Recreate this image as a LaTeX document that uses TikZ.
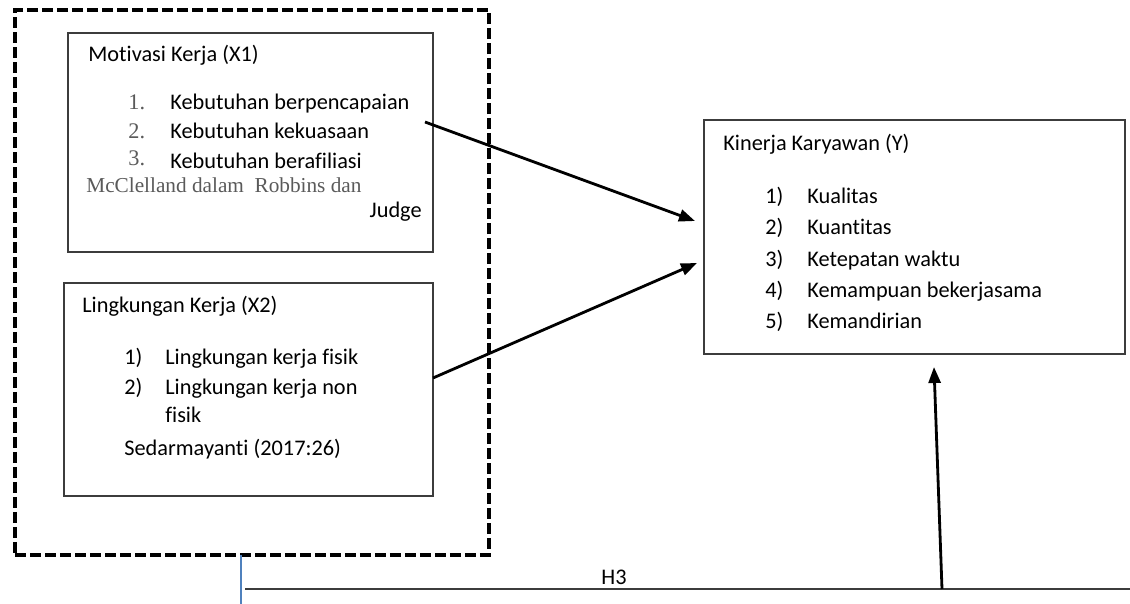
\documentclass[tikz,border=0pt]{standalone}
\usepackage{fontspec}
\setmainfont{Carlito}[Ligatures=NoCommon]
\newfontfamily\timesfont{Liberation Serif}
\usetikzlibrary{arrows.meta}
\definecolor{boxgray}{RGB}{60,60,60}
\definecolor{citegray}{RGB}{90,90,90}
\definecolor{wordblue}{RGB}{79,129,189}

\begin{document}
\begin{tikzpicture}[x=0.02cm,y=-0.02cm,
        box/.style={draw=boxgray,line width=0.8pt,inner sep=0pt},
        lbl/.style={anchor=base west,inner sep=0pt,font=\fontsize{12.7}{15}\selectfont},
        tnum/.style={anchor=base west,inner sep=0pt,text=citegray,font=\timesfont\fontsize{12.7}{15}\selectfont},
        pfeil/.style={line width=1.6pt,-{Triangle[length=0.32cm,width=0.24cm]}}]
        \useasboundingbox (0,0) rectangle (1130,604);

        % Kotak luar (putus-putus)
        \node[draw,line width=2.3pt,dash pattern=on 0.22cm off 0.08cm,inner sep=0pt,
              minimum width=9.48cm,minimum height=10.9cm] (grup) at (252,282.5) {};

        % Motivasi Kerja (X1)
        \node[box,minimum width=7.3cm,minimum height=4.38cm] (motivasi) at (250.5,142.5) {};
        \node[lbl] (motjudul) at (88,62) {Motivasi Kerja (X1)};
        \node[tnum] (motn1) at (128,110) {1.};
        \node[tnum] (motn2) at (128,139) {2.};
        \node[tnum] (motn3) at (128,166) {3.};
        \node[lbl] (mot1) at (170,110) {Kebutuhan berpencapaian};
        \node[lbl] (mot2) at (170,139) {Kebutuhan kekuasaan};
        \node[lbl] (mot3) at (170,169) {Kebutuhan berafiliasi};
        \node[tnum,font=\timesfont\fontsize{12.1}{15}\selectfont] (motsumber) at (86,193) {McClelland dalam\ \ Robbins dan};
        \node[lbl,anchor=base east] (motjudge) at (422,218) {Judge};

        % Lingkungan Kerja (X2)
        \node[box,minimum width=7.38cm,minimum height=4.26cm] (lingkungan) at (248.5,389.5) {};
        \node[lbl] (linjudul) at (82,313) {Lingkungan Kerja (X2)};
        \node[lbl] (linn1) at (124,365) {1)};
        \node[lbl] (linn2) at (124,395) {2)};
        \node[lbl] (lin1) at (165,365) {Lingkungan kerja fisik};
        \node[lbl] (lin2) at (165,395) {Lingkungan kerja non};
        \node[lbl] (lin2b) at (165,423) {fisik};
        \node[lbl] (linsumber) at (124,456) {Sedarmayanti (2017:26)};

        % Kinerja Karyawan (Y)
        \node[box,minimum width=8.42cm,minimum height=4.68cm] (kinerja) at (914.5,237) {};
        \node[lbl] (kinjudul) at (723,151) {Kinerja Karyawan (Y)};
        \node[lbl] (kinn1) at (765,204) {1)};
        \node[lbl] (kinn2) at (765,235) {2)};
        \node[lbl] (kinn3) at (765,267) {3)};
        \node[lbl] (kinn4) at (765,298) {4)};
        \node[lbl] (kinn5) at (765,329) {5)};
        \node[lbl] (kin1) at (807,204) {Kualitas};
        \node[lbl] (kin2) at (807,235) {Kuantitas};
        \node[lbl] (kin3) at (807,267) {Ketepatan waktu};
        \node[lbl] (kin4) at (807,298) {Kemampuan bekerjasama};
        \node[lbl] (kin5) at (807,329) {Kemandirian};

        % Garis H3
        \coordinate (h3kiri) at (245,589);
        \coordinate (h3kanan) at (1130,589);
        \coordinate (h3naik) at (942,589);
        \coordinate (birua) at (241,555);
        \coordinate (birub) at (241,604);
        \node[lbl,anchor=base] (h3) at (614,584) {H3};
        \draw[line width=0.9pt,boxgray] (h3kiri) -- (h3kanan);
        \draw[wordblue,line width=0.7pt] (birua) -- (birub);

        % Panah
        \coordinate (x1ujung) at (425,122);
        \coordinate (x1tuju) at (695,221);
        \coordinate (x2ujung) at (433,378);
        \coordinate (x2tuju) at (697,263);
        \coordinate (ytuju) at (934,367);
        \draw[pfeil] (x1ujung) -- (x1tuju);
        \draw[pfeil] (x2ujung) -- (x2tuju);
        \draw[pfeil] (h3naik) -- (ytuju);
\end{tikzpicture}
\end{document}
